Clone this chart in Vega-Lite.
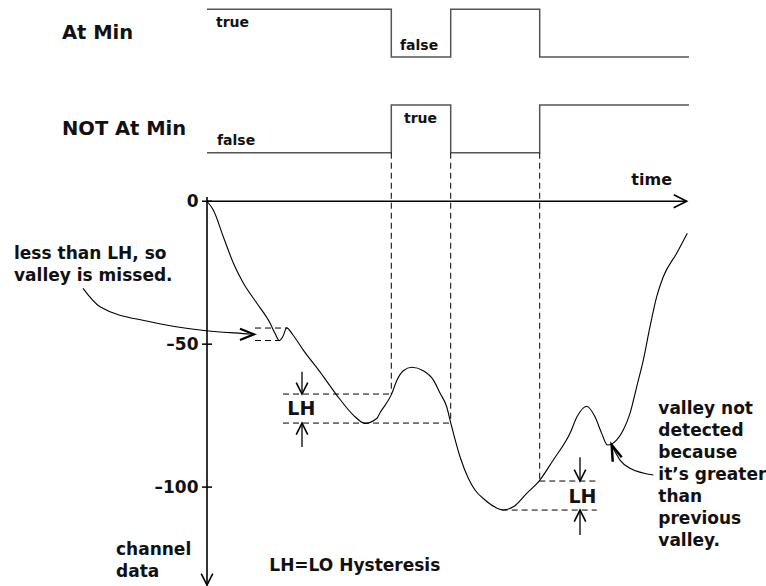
{
  "$schema": "https://vega.github.io/schema/vega-lite/v6.json",
  "width": 559,
  "height": 586,
  "autosize": {"type": "none"},
  "padding": {"left": 207, "top": 0, "right": 0, "bottom": 0},
  "background": "white",
  "config": {
    "view": {"stroke": null},
    "text": {"font": "DejaVu Sans", "fontWeight": "bold", "fontSize": 17, "color": "#111"}
  },
  "resolve": {"scale": {"y": "independent"}},
  "layer": [
    {
      "encoding": {
        "x": {"field": "t", "type": "quantitative", "scale": {"domain": [0, 559], "nice": false, "zero": false}, "axis": null},
        "y": {"field": "level", "type": "quantitative", "scale": {"domain": [-9.065, 3.195], "nice": false, "zero": false}, "axis": null}
      },
      "layer": [
        {
          "data": {"values": [
            {"signal": "At Min", "t": 0, "level": 3},
            {"signal": "At Min", "t": 184.3, "level": 2},
            {"signal": "At Min", "t": 243.7, "level": 3},
            {"signal": "At Min", "t": 332.7, "level": 2},
            {"signal": "At Min", "t": 482, "level": 2},
            {"signal": "NOT At Min", "t": 0, "level": 0},
            {"signal": "NOT At Min", "t": 184.3, "level": 1},
            {"signal": "NOT At Min", "t": 243.7, "level": 0},
            {"signal": "NOT At Min", "t": 332.7, "level": 1},
            {"signal": "NOT At Min", "t": 482, "level": 1}
          ]},
          "mark": {"type": "line", "interpolate": "step-after", "color": "#555", "strokeWidth": 1.5},
          "encoding": {"detail": {"field": "signal"}}
        },
        {
          "data": {"values": [
            {"label": "At Min", "t": -145, "level": 2.5},
            {"label": "NOT At Min", "t": -145, "level": 0.5}
          ]},
          "mark": {"type": "text", "align": "left", "baseline": "middle", "fontSize": 19.5},
          "encoding": {"text": {"field": "label"}}
        },
        {
          "data": {"values": [
            {"label": "true", "t": 9, "level": 2.63},
            {"label": "false", "t": 193, "level": 2.15},
            {"label": "true", "t": 197, "level": 0.63},
            {"label": "false", "t": 10, "level": 0.16}
          ]},
          "mark": {"type": "text", "align": "left", "baseline": "alphabetic", "fontSize": 14},
          "encoding": {"text": {"field": "label"}}
        }
      ]
    },
    {
      "encoding": {
        "x": {"field": "t", "type": "quantitative", "scale": {"domain": [0, 559], "nice": false, "zero": false}, "axis": null},
        "y": {"field": "v", "type": "quantitative", "scale": {"domain": [-134.6, 70.4], "nice": false, "zero": false},
          "axis": {"values": [0, -50, -100], "domain": false, "ticks": false, "tickSize": 0, "grid": false, "title": null,
            "labelPadding": 9, "labelFont": "DejaVu Sans", "labelFontWeight": "bold", "labelFontSize": 17, "labelColor": "#111",
            "labelExpr": "datum.value < 0 ? '–' + abs(datum.value) : datum.label"}}
      },
      "layer": [
        {
          "data": {"values": [
            {"t": 184.3, "v": 16.97, "v2": -67.45},
            {"t": 243.7, "v": 16.97, "v2": -77.6},
            {"t": 332.7, "v": 16.97, "v2": -97.88}
          ]},
          "mark": {"type": "rule", "color": "black", "strokeWidth": 1, "strokeDash": [6, 4]},
          "encoding": {"y2": {"field": "v2"}}
        },
        {
          "data": {"values": [
            {"t": 48, "t2": 80, "v": -44.36},
            {"t": 48, "t2": 73, "v": -48.73},
            {"t": 76, "t2": 184.5, "v": -67.45},
            {"t": 76, "t2": 243.7, "v": -77.6},
            {"t": 332.3, "t2": 389.7, "v": -97.88},
            {"t": 294.7, "t2": 389.7, "v": -108.03}
          ]},
          "mark": {"type": "rule", "color": "black", "strokeWidth": 1, "strokeDash": [6, 4]},
          "encoding": {"x2": {"field": "t2"}}
        },
        {
          "data": {"values": [{"t": 0, "t2": 479.7, "v": 0}]},
          "mark": {"type": "rule", "color": "black", "strokeWidth": 1.6},
          "encoding": {"x2": {"field": "t2"}}
        },
        {
          "data": {"values": [{"t": 0, "v": 1.5, "v2": -134.3}]},
          "mark": {"type": "rule", "color": "black", "strokeWidth": 1.6},
          "encoding": {"y2": {"field": "v2"}}
        },
        {
          "data": {"values": [{"t": 0, "v": 0}, {"t": 0, "v": -50}, {"t": 0, "v": -100}]},
          "mark": {"type": "tick", "orient": "horizontal", "size": 10, "thickness": 1.5, "color": "black", "opacity": 1}
        },
        {
          "data": {"values": [{"t": 479.7, "v": 0}]},
          "mark": {"type": "point", "shape": "M-1,-0.5L0,0L-1,0.5", "size": 676, "filled": false, "color": "black", "strokeWidth": 1.6, "opacity": 1}
        },
        {
          "data": {"values": [{"t": 0, "v": -134.3}]},
          "mark": {"type": "point", "shape": "M-0.5,-1L0,0L0.5,-1", "size": 529, "filled": false, "color": "black", "strokeWidth": 1.6, "opacity": 1}
        },
        {
          "data": {"values": [
            {"t": 0, "v": 0}, {"t": 6.3, "v": -3.1}, {"t": 16.3, "v": -12.4}, {"t": 26.3, "v": -21.6},
            {"t": 36.3, "v": -28.6}, {"t": 49.7, "v": -35.6}, {"t": 63, "v": -42.6}, {"t": 68, "v": -46.2},
            {"t": 72.3, "v": -48.7}, {"t": 76, "v": -47.2}, {"t": 79.7, "v": -44.3}, {"t": 86, "v": -46.8},
            {"t": 96.3, "v": -52.1}, {"t": 113, "v": -59.7}, {"t": 129.7, "v": -67.8}, {"t": 146.3, "v": -74.8},
            {"t": 158, "v": -77.7}, {"t": 169.7, "v": -76.0}, {"t": 173, "v": -74.0}, {"t": 184.7, "v": -67.4},
            {"t": 189.7, "v": -62.8}, {"t": 196.3, "v": -59.3}, {"t": 204.7, "v": -58.1}, {"t": 216.3, "v": -59.3},
            {"t": 226.3, "v": -62.5}, {"t": 233, "v": -67.1}, {"t": 239.7, "v": -71.9}, {"t": 243.7, "v": -77.5},
            {"t": 253, "v": -89.4}, {"t": 261.3, "v": -96.9}, {"t": 268, "v": -101.0}, {"t": 278, "v": -104.5},
            {"t": 288, "v": -107.0}, {"t": 296.3, "v": -108.0}, {"t": 306.3, "v": -106.9}, {"t": 319.7, "v": -102.2},
            {"t": 332.3, "v": -97.8}, {"t": 346.3, "v": -90.5}, {"t": 363, "v": -81.2}, {"t": 370, "v": -75.4},
            {"t": 379.7, "v": -71.7}, {"t": 388, "v": -75.4}, {"t": 394.7, "v": -81.2}, {"t": 400.5, "v": -85.3},
            {"t": 409.7, "v": -83.5}, {"t": 416.3, "v": -80.0}, {"t": 423, "v": -74.2}, {"t": 429.7, "v": -64.9},
            {"t": 436.3, "v": -55.6}, {"t": 443, "v": -43.9}, {"t": 449.7, "v": -33.4}, {"t": 456.3, "v": -26.4},
            {"t": 469.7, "v": -18.2}, {"t": 480.3, "v": -11.2}
          ]},
          "mark": {"type": "line", "interpolate": "monotone", "color": "black", "strokeWidth": 1.1}
        },
        {
          "data": {"values": [
            {"t": 95, "v": -59.65, "v2": -67.3},
            {"t": 95, "v": -77.7, "v2": -86.0},
            {"t": 373, "v": -89.6, "v2": -97.8},
            {"t": 373, "v": -108.03, "v2": -116.8}
          ]},
          "mark": {"type": "rule", "color": "black", "strokeWidth": 1.3},
          "encoding": {"y2": {"field": "v2"}}
        },
        {
          "data": {"values": [{"t": 95, "v": -67.45}, {"t": 373, "v": -97.88}]},
          "mark": {"type": "point", "shape": "M-0.5,-1L0,0L0.5,-1", "size": 529, "filled": false, "color": "black", "strokeWidth": 1.6, "opacity": 1}
        },
        {
          "data": {"values": [{"t": 95, "v": -77.6}, {"t": 373, "v": -108.03}]},
          "mark": {"type": "point", "shape": "M-0.5,1L0,0L0.5,1", "size": 529, "filled": false, "color": "black", "strokeWidth": 1.6, "opacity": 1}
        },
        {
          "data": {"values": [{"label": "LH", "t": 94.3, "v": -72.6}, {"label": "LH", "t": 375.5, "v": -103.3}]},
          "mark": {"type": "text", "align": "center", "baseline": "middle", "fontSize": 19},
          "encoding": {"text": {"field": "label"}}
        },
        {
          "data": {"values": [
            {"id": "a", "t": -124, "v": -30.47}, {"id": "a", "t": -107, "v": -36.9}, {"id": "a", "t": -57, "v": -42.14},
            {"id": "a", "t": -7, "v": -45.05}, {"id": "a", "t": 43, "v": -46.45}, {"id": "a", "t": 47, "v": -46.56},
            {"id": "b", "t": 406.3, "v": -86.44}, {"id": "b", "t": 413, "v": -90.54}, {"id": "b", "t": 423, "v": -93.44},
            {"id": "b", "t": 446.3, "v": -95.78}
          ]},
          "mark": {"type": "line", "interpolate": "monotone", "color": "black", "strokeWidth": 1.1},
          "encoding": {"detail": {"field": "id"}}
        },
        {
          "data": {"values": [{"t": 47, "v": -46.56}]},
          "mark": {"type": "point", "shape": "M-1,-0.4L0,0L-1,0.4", "size": 784, "filled": false, "color": "black", "strokeWidth": 2.2, "opacity": 1}
        },
        {
          "data": {"values": [{"t": 404.7, "v": -85.29}]},
          "mark": {"type": "point", "shape": "M0.06,0.98L0,0L0.59,0.72", "size": 1156, "filled": false, "color": "black", "strokeWidth": 2.5, "opacity": 1}
        },
        {
          "data": {"values": [
            {"label": "less than LH, so\nvalley is missed.", "t": -193, "v": -20.22},
            {"label": "valley not\ndetected\nbecause\nit’s greater\nthan\nprevious\nvalley.", "t": 451.3, "v": -74.45},
            {"label": "channel\ndata", "t": -91, "v": -123.77},
            {"label": "LH=LO Hysteresis", "t": 62.3, "v": -129.4}
          ]},
          "mark": {"type": "text", "align": "left", "baseline": "alphabetic", "lineBreak": "\n", "lineHeight": 22},
          "encoding": {"text": {"field": "label"}}
        },
        {
          "data": {"values": [{"label": "time", "t": 444.7, "v": 5.67}]},
          "mark": {"type": "text", "align": "center", "baseline": "alphabetic", "fontSize": 16},
          "encoding": {"text": {"field": "label"}}
        }
      ]
    }
  ]
}
